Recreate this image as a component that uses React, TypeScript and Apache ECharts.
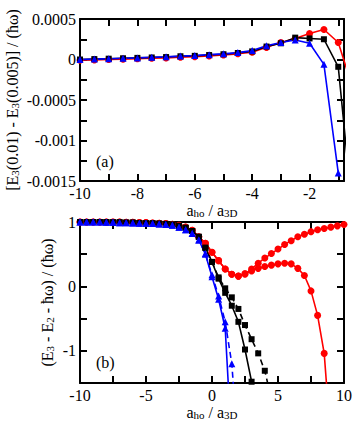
import React, { useEffect, useRef } from "react";
import * as echarts from "echarts";

// Panel (a): x grid and series
const aX = [-10, -9.5, -9, -8.5, -8, -7.5, -7, -6.5, -6, -5.5, -5, -4.5, -4, -3.5, -3, -2.5, -2, -1.5, -1, -0.5];
const aRed = [-0.00001, -0.000005, 0, 0.000005, 0.00001, 0.000015, 0.00002, 0.000028, 0.000035, 0.000045, 0.000055, 0.00007, 0.00009, 0.00015, 0.00021, 0.00026, 0.00032, 0.00037, 0.00021, -0.00035];
const aBlack = [0, 0.000005, 0.00001, 0.000015, 0.00002, 0.000025, 0.00003, 0.00004, 0.000045, 0.000055, 0.000065, 0.00008, 0.0001, 0.00016, 0.0002, 0.00027, 0.00026, 0.00025, -0.00009, -0.0019];
const aBlue = [0, 0.000005, 0.00001, 0.000015, 0.00002, 0.000027, 0.000033, 0.000042, 0.00005, 0.00006, 0.00007, 0.000085, 0.00011, 0.00017, 0.00021, 0.00024, 0.0002, -0.00006, -0.0014];

// Panel (b)
const bX = [-10, -9.5, -9, -8.5, -8, -7.5, -7, -6.5, -6, -5.5, -5, -4.5, -4, -3.5, -3, -2.5, -2, -1.5, -1, -0.5, 0, 0.5, 1, 1.5, 2, 2.5, 3, 3.5, 4, 4.5, 5, 5.5, 6, 6.5, 7, 7.5, 8, 8.5, 9, 9.5, 10];
const bRedUpper = [1, 1, 1, 1, 1, 1, 1, 0.995, 0.995, 0.99, 0.99, 0.985, 0.98, 0.975, 0.965, 0.95, 0.92, 0.87, 0.77, 0.67, 0.53, 0.4, 0.27, 0.19, 0.16, 0.19, 0.27, 0.36, 0.44, 0.51, 0.58, 0.65, 0.71, 0.77, 0.81, 0.85, 0.88, 0.9, 0.92, 0.94, 0.96];
const bRedLower = [1, 1, 1, 1, 1, 1, 1, 0.995, 0.995, 0.99, 0.99, 0.985, 0.98, 0.975, 0.965, 0.95, 0.92, 0.87, 0.77, 0.67, 0.53, 0.4, 0.27, 0.19, 0.16, 0.2, 0.24, 0.28, 0.31, 0.33, 0.35, 0.36, 0.35, 0.28, 0.17, -0.07, -0.45, -1.04, -2.4];
const bBlackSolid = [1, 1, 1, 1, 1, 0.995, 0.995, 0.99, 0.99, 0.985, 0.98, 0.98, 0.975, 0.97, 0.96, 0.94, 0.91, 0.86, 0.77, 0.6, 0.38, 0.12, -0.1, -0.3, -0.55, -0.98, -1.48];
const bBlackDashed = [1, 1, 1, 1, 1, 0.995, 0.995, 0.99, 0.99, 0.985, 0.98, 0.98, 0.975, 0.97, 0.96, 0.94, 0.91, 0.86, 0.77, 0.6, 0.38, 0.14, -0.03, -0.17, -0.35, -0.6, -0.82, -1.04, -1.31, -1.75];
const bBlueSolid = [1, 1, 1, 1, 0.995, 0.995, 0.99, 0.99, 0.985, 0.98, 0.98, 0.975, 0.97, 0.96, 0.95, 0.92, 0.88, 0.82, 0.72, 0.5, 0.15, -0.2, -0.65, -2.5];
const bBlueDashed = [1, 1, 1, 1, 0.995, 0.995, 0.99, 0.99, 0.985, 0.98, 0.98, 0.975, 0.97, 0.96, 0.95, 0.92, 0.88, 0.82, 0.72, 0.51, 0.18, -0.15, -0.55, -1.2, -2.6];

const pairs = (xs: number[], ys: number[]) => ys.map((y, i) => [xs[i], y]);

const FONT = "Liberation Serif";
const RED = "#ff0000";
const BLUE = "#0000ff";
const BLACK = "#000000";

const rich = {
  n: { fontFamily: FONT, fontSize: 16, lineHeight: 16, color: "#000", verticalAlign: "middle" },
  s: { fontFamily: FONT, fontSize: 11, lineHeight: 7, color: "#000", verticalAlign: "bottom" },
};

function axisCommon(extra: any) {
  return {
    axisLine: { show: true, onZero: false, lineStyle: { color: "#000", width: 2 } },
    axisTick: { show: true, inside: true, length: 7, lineStyle: { color: "#000", width: 2 } },
    splitLine: { show: false },
    nameMoveOverlap: false,
    ...extra,
  };
}

function series(name: string, data: number[][], color: string, symbol: string, size: number, xi: number, yi: number, dashed = false) {
  return {
    name,
    type: "line",
    xAxisIndex: xi,
    yAxisIndex: yi,
    data,
    symbol,
    symbolSize: size,
    showSymbol: true,
    clip: true,
    lineStyle: { color, width: 1.6, type: dashed ? [6, 4] : "solid" },
    itemStyle: { color, borderWidth: 0 },
    emphasis: { disabled: true },
  };
}

export default function App() {
  const ref = useRef<HTMLDivElement>(null);
  useEffect(() => {
    if (!ref.current) return;
    const chart = echarts.init(ref.current, null, { renderer: "svg" });
    const xLabelA = (v: number) => (Math.abs(v % 2) < 1e-9 ? String(v) : "");
    const xLabelB = (v: number) => (Math.abs(v % 5) < 1e-9 ? String(v) : "");
    const yLabelA = (v: number) => {
      const r = Math.round(v / 0.0005);
      return Math.abs(v / 0.0005 - r) < 1e-6 ? String(+(r * 0.0005).toFixed(4)) : "";
    };
    const yLabelB = (v: number) => (Math.abs(v - Math.round(v)) < 1e-9 ? String(Math.round(v)) : "");
    const labelStyle = { fontFamily: FONT, fontSize: 16, lineHeight: 14, color: "#000" };
    const option: any = {
      animation: false,
      backgroundColor: "#fff",
      grid: [
        { left: 80, top: 19, width: 264, height: 162, outerBoundsMode: "none", containLabel: false },
        { left: 80, top: 222, width: 264, height: 161, outerBoundsMode: "none", containLabel: false },
      ],
      xAxis: [
        axisCommon({
          type: "value", gridIndex: 0, position: "bottom", min: -10, max: -0.8, interval: 1,
          axisLabel: { ...labelStyle, margin: 5, formatter: xLabelA, showMaxLabel: false },
          name: "{n|a}{s|ho}{n| / a}{s|3D}", nameLocation: "middle", nameGap: 21,
          nameTextStyle: { rich },
        }),
        axisCommon({
          type: "value", gridIndex: 0, position: "top", min: -10, max: -0.8, interval: 1,
          axisLabel: { show: false },
        }),
        axisCommon({
          type: "value", gridIndex: 1, position: "bottom", min: -10, max: 10, interval: 2.5,
          axisLabel: { ...labelStyle, margin: 5, formatter: xLabelB },
          name: "{n|a}{s|ho}{n| / a}{s|3D}", nameLocation: "middle", nameGap: 21,
          nameTextStyle: { rich },
        }),
        axisCommon({
          type: "value", gridIndex: 1, position: "top", min: -10, max: 10, interval: 2.5,
          axisLabel: { show: false },
        }),
      ],
      yAxis: [
        axisCommon({
          type: "value", gridIndex: 0, position: "left", min: -0.0015, max: 0.0005, interval: 0.00025,
          axisLabel: { ...labelStyle, margin: 4, formatter: yLabelA },
          name: "{n|[E}{s|3}{n|(0.01) - E}{s|3}{n|(0.005)] / (ħω)}", nameLocation: "middle", nameGap: 60,
          nameRotate: 90,
          nameTextStyle: { rich },
        }),
        axisCommon({
          type: "value", gridIndex: 0, position: "right", min: -0.0015, max: 0.0005, interval: 0.00025,
          axisLabel: { show: false },
        }),
        axisCommon({
          type: "value", gridIndex: 1, position: "left", min: -1.5, max: 1, interval: 0.5,
          axisLabel: { ...labelStyle, margin: 4, formatter: yLabelB },
          name: "{n|(E}{s|3}{n| - E}{s|2}{n| - ħω) / (ħω)}", nameLocation: "middle", nameGap: 25,
          nameRotate: 90,
          nameTextStyle: { rich },
        }),
        axisCommon({
          type: "value", gridIndex: 1, position: "right", min: -1.5, max: 1, interval: 0.5,
          axisLabel: { show: false },
        }),
      ],
      graphic: [
        { type: "text", left: 96, top: 153, style: { text: "(a)", fontFamily: FONT, fontSize: 16, fill: "#000" } },
        { type: "text", left: 96, top: 354, style: { text: "(b)", fontFamily: FONT, fontSize: 16, fill: "#000" } },
      ],
      series: [
        series("a-red", pairs(aX, aRed), RED, "circle", 7, 0, 0),
        series("a-black", pairs(aX, aBlack), BLACK, "rect", 6, 0, 0),
        series("a-blue", pairs(aX, aBlue), BLUE, "triangle", 7, 0, 0),
        series("b-red-upper", pairs(bX, bRedUpper), RED, "circle", 7, 2, 2),
        series("b-red-lower", pairs(bX, bRedLower), RED, "circle", 7, 2, 2),
        series("b-black-dashed", pairs(bX, bBlackDashed), BLACK, "rect", 6, 2, 2, true),
        series("b-black-solid", pairs(bX, bBlackSolid), BLACK, "rect", 6, 2, 2),
        series("b-blue-dashed", pairs(bX, bBlueDashed), BLUE, "triangle", 7, 2, 2, true),
        series("b-blue-solid", pairs(bX, bBlueSolid), BLUE, "triangle", 7, 2, 2),
      ],
    };
    chart.setOption(option);
    return () => chart.dispose();
  }, []);
  return (
    <div
      ref={ref}
      style={{ position: "fixed", left: 0, top: 0, width: 354, height: 425 }}
    />
  );
}
